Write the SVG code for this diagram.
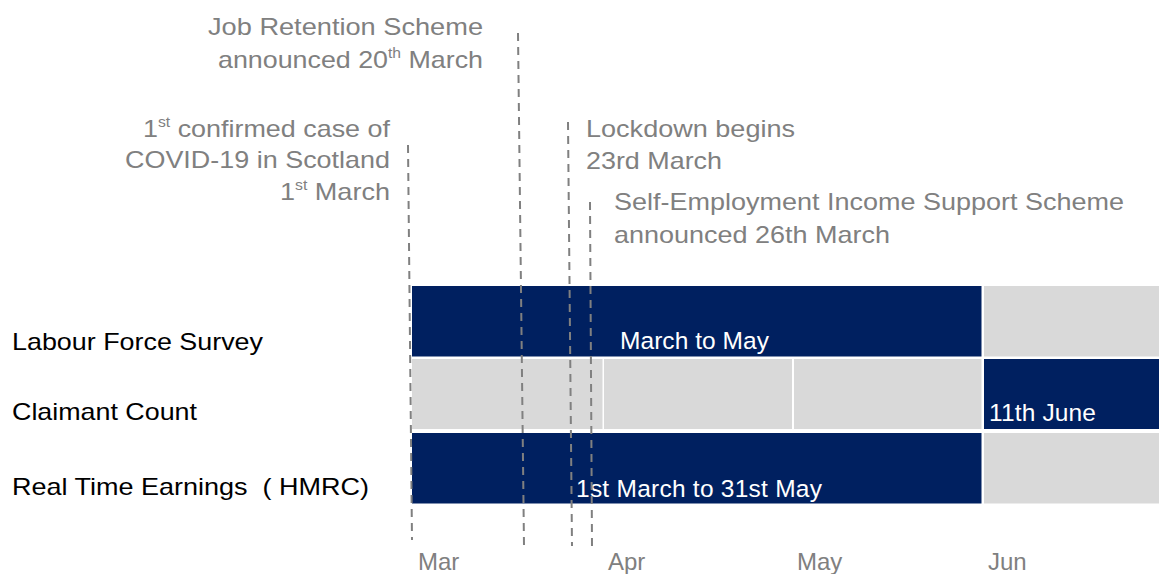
<svg xmlns="http://www.w3.org/2000/svg" width="1159" height="574" viewBox="0 0 1159 574">
<style>
text{font-family:"Liberation Sans",Arial,sans-serif;font-size:24px}
.g{fill:#808080}
.k{fill:#000}
.w{fill:#fff;font-size:24.5px}
.ax{font-size:24px}
.navy{fill:#002060}
.grey{fill:#D9D9D9}
.dash{stroke:#808080;stroke-width:2;stroke-dasharray:8 6;fill:none}
.sup{font-size:14px}
</style>
<rect width="1159" height="574" fill="#fff"/>
<g id="row-lfs">
<rect class="navy" x="412" y="286" width="569.5" height="70.5"/>
<rect class="grey" x="984" y="286" width="175" height="70.5"/>
<text class="k" x="12" y="350" textLength="251" lengthAdjust="spacingAndGlyphs">Labour Force Survey</text>
<text class="w" x="620" y="349" textLength="149">March to May</text>
</g>
<g id="row-cc">
<rect class="grey" x="412" y="359" width="190.5" height="70"/>
<rect class="grey" x="604" y="359" width="188" height="70"/>
<rect class="grey" x="794" y="359" width="187.5" height="70"/>
<rect class="navy" x="984" y="359" width="175" height="70"/>
<text class="k" x="12" y="420" textLength="185" lengthAdjust="spacingAndGlyphs">Claimant Count</text>
<text class="w" x="989" y="421" textLength="107">11th June</text>
</g>
<g id="row-rte">
<rect class="navy" x="412" y="433" width="569.5" height="70.5"/>
<rect class="grey" x="984" y="433" width="175" height="70.5"/>
<text class="k" x="12" y="495" textLength="357" lengthAdjust="spacingAndGlyphs" xml:space="preserve">Real Time Earnings  ( HMRC)</text>
<text class="w" x="576" y="497" textLength="246">1st March to 31st May</text>
</g>
<g id="connectors">
<line class="dash" x1="408" y1="145" x2="412" y2="540"/>
<line class="dash" x1="518" y1="33" x2="524" y2="546"/>
<line class="dash" x1="568" y1="122" x2="572" y2="546"/>
<line class="dash" x1="590" y1="202" x2="592" y2="546"/>
</g>
<g id="note-jrs">
<text class="g" x="208" y="35" textLength="275" lengthAdjust="spacingAndGlyphs">Job Retention Scheme</text>
<text class="g" x="218" y="68" textLength="265" lengthAdjust="spacingAndGlyphs">announced 20<tspan class="sup" dy="-10">th</tspan><tspan dy="10"> March</tspan></text>
</g>
<g id="note-first-case" text-anchor="end">
<text class="g" x="390" y="137" textLength="247" lengthAdjust="spacingAndGlyphs">1<tspan class="sup" dy="-10">st</tspan><tspan dy="10"> confirmed case of</tspan></text>
<text class="g" x="390" y="168" textLength="265" lengthAdjust="spacingAndGlyphs">COVID-19 in Scotland</text>
<text class="g" x="390" y="200" textLength="110" lengthAdjust="spacingAndGlyphs">1<tspan class="sup" dy="-10">st</tspan><tspan dy="10"> March</tspan></text>
</g>
<g id="note-lockdown">
<text class="g" x="586" y="137" textLength="209" lengthAdjust="spacingAndGlyphs">Lockdown begins</text>
<text class="g" x="586" y="169" textLength="136" lengthAdjust="spacingAndGlyphs">23rd March</text>
</g>
<g id="note-seiss">
<text class="g" x="614" y="210" textLength="510" lengthAdjust="spacingAndGlyphs">Self-Employment Income Support Scheme</text>
<text class="g" x="614" y="243" textLength="276" lengthAdjust="spacingAndGlyphs">announced 26th March</text>
</g>
<g id="axis">
<text class="g ax" x="418" y="570">Mar</text>
<text class="g ax" x="608" y="570">Apr</text>
<text class="g ax" x="797" y="570">May</text>
<text class="g ax" x="988" y="570">Jun</text>
</g>
</svg>
